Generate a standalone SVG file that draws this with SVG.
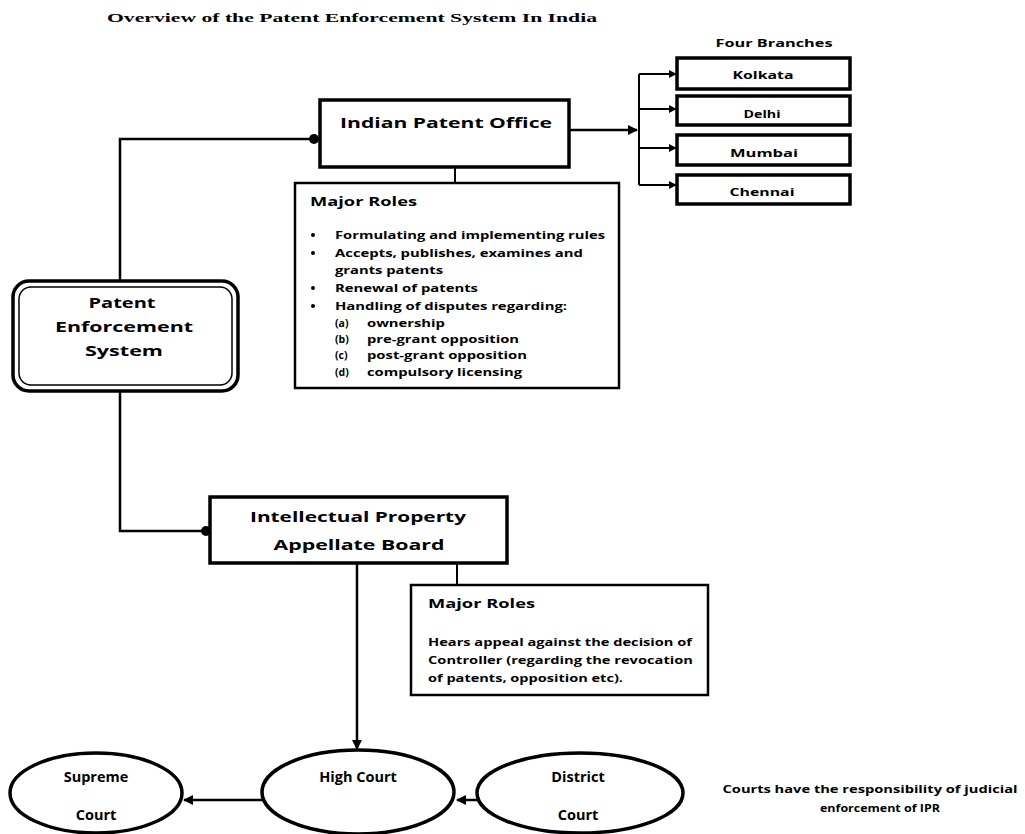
<svg xmlns="http://www.w3.org/2000/svg" width="1025" height="834" viewBox="0 0 1025 834">
<style>
.box{fill:#fff;stroke:#000;stroke-width:3.5}
.note{fill:#fff;stroke:#000;stroke-width:2.5}
.t{font-family:"Open Sans","DejaVu Sans",sans-serif;font-weight:bold;fill:#000}
.c{text-anchor:middle}
.ln{fill:none;stroke:#000;stroke-width:2.5}
.ln2{fill:none;stroke:#000;stroke-width:2}
</style>
<defs>
<marker id="arr" viewBox="0 0 10 10" refX="9" refY="5" markerWidth="4" markerHeight="4" orient="auto" markerUnits="strokeWidth"><path d="M0,0 L10,5 L0,10 z" fill="#000"/></marker>
<marker id="dot" viewBox="0 0 10 10" refX="5" refY="5" markerWidth="4" markerHeight="4" orient="auto" markerUnits="strokeWidth"><circle cx="5" cy="5" r="5" fill="#000"/></marker>
</defs>
<rect width="1025" height="834" fill="#fff"/>
<text x="107" y="22" font-family="Liberation Serif,serif" font-weight="bold" font-size="13" textLength="490" lengthAdjust="spacingAndGlyphs">Overview of the Patent Enforcement System In India</text>

<g id="connectors">
<path class="ln" d="M120,281 V139 H314" marker-end="url(#dot)"/>
<path class="ln" d="M569,130 H637" marker-end="url(#arr)"/>
<path class="ln2" d="M639,74 V185"/>
<path class="ln2" d="M639,74 H676" marker-end="url(#arr)"/>
<path class="ln2" d="M639,109 H676" marker-end="url(#arr)"/>
<path class="ln2" d="M639,148 H676" marker-end="url(#arr)"/>
<path class="ln2" d="M639,185 H676" marker-end="url(#arr)"/>
<path class="ln2" d="M455,167 V183"/>
<path class="ln" d="M120,391 V531 H206" marker-end="url(#dot)"/>
<path class="ln2" d="M457,563 V585"/>
<path class="ln" d="M357,563 V749" marker-end="url(#arr)"/>
<path class="ln" d="M262,800 H184" marker-end="url(#arr)"/>
<path class="ln" d="M477,800 H457" marker-end="url(#arr)"/>
</g>

<g id="ipo">
<rect class="box" x="320" y="100" width="249" height="67"/>
<text class="t" x="340" y="128" font-size="14" textLength="212" lengthAdjust="spacingAndGlyphs">Indian Patent Office</text>
</g>

<g id="branches">
<text class="t c" x="774" y="47" font-size="11" textLength="117" lengthAdjust="spacingAndGlyphs">Four Branches</text>
</g>
<g id="kolkata"><rect class="box" x="677" y="58" width="173" height="31" stroke-width="3"/><text class="t c" x="763" y="79" font-size="11" textLength="61" lengthAdjust="spacingAndGlyphs">Kolkata</text></g>
<g id="delhi"><rect class="box" x="677" y="96" width="173" height="29" stroke-width="3"/><text class="t c" x="762" y="118" font-size="11" textLength="37" lengthAdjust="spacingAndGlyphs">Delhi</text></g>
<g id="mumbai"><rect class="box" x="677" y="135" width="173" height="30" stroke-width="3"/><text class="t c" x="764" y="157" font-size="11" textLength="68" lengthAdjust="spacingAndGlyphs">Mumbai</text></g>
<g id="chennai"><rect class="box" x="677" y="175" width="173" height="29" stroke-width="3"/><text class="t c" x="762" y="196" font-size="11" textLength="65" lengthAdjust="spacingAndGlyphs">Chennai</text></g>

<g id="roles1">
<rect class="note" x="295" y="183" width="324" height="205"/>
<text class="t" x="310" y="206" font-size="12.5" textLength="107" lengthAdjust="spacingAndGlyphs">Major Roles</text>
<g font-size="10.5">
<circle cx="313" cy="235" r="2"/><text class="t" x="335" y="239" textLength="270" lengthAdjust="spacingAndGlyphs">Formulating and implementing rules</text>
<circle cx="313" cy="253" r="2"/><text class="t" x="335" y="257" textLength="248" lengthAdjust="spacingAndGlyphs">Accepts, publishes, examines and</text>
<text class="t" x="335" y="274" textLength="108" lengthAdjust="spacingAndGlyphs">grants patents</text>
<circle cx="313" cy="288" r="2"/><text class="t" x="335" y="292" textLength="143" lengthAdjust="spacingAndGlyphs">Renewal of patents</text>
<circle cx="313" cy="306" r="2"/><text class="t" x="335" y="310" textLength="232" lengthAdjust="spacingAndGlyphs">Handling of disputes regarding:</text>
<text class="t" x="335" y="327">(a)</text><text class="t" x="367" y="327" textLength="78" lengthAdjust="spacingAndGlyphs">ownership</text>
<text class="t" x="335" y="343">(b)</text><text class="t" x="367" y="343" textLength="152" lengthAdjust="spacingAndGlyphs">pre-grant opposition</text>
<text class="t" x="335" y="359">(c)</text><text class="t" x="367" y="359" textLength="160" lengthAdjust="spacingAndGlyphs">post-grant opposition</text>
<text class="t" x="335" y="376">(d)</text><text class="t" x="367" y="376" textLength="155" lengthAdjust="spacingAndGlyphs">compulsory licensing</text>
</g>
</g>

<g id="pes">
<rect x="13" y="281" width="225" height="110" rx="16" fill="#fff" stroke="#000" stroke-width="3.5"/>
<rect x="19" y="287" width="213" height="98" rx="12" fill="none" stroke="#000" stroke-width="1.5"/>
<text class="t c" x="122" y="308" font-size="15" textLength="67" lengthAdjust="spacingAndGlyphs">Patent</text>
<text class="t c" x="124" y="332" font-size="15" textLength="138" lengthAdjust="spacingAndGlyphs">Enforcement</text>
<text class="t c" x="124" y="356" font-size="15" textLength="78" lengthAdjust="spacingAndGlyphs">System</text>
</g>

<g id="ipab">
<rect class="box" x="210" y="497" width="297" height="66"/>
<text class="t c" x="358" y="522" font-size="14.5" textLength="216" lengthAdjust="spacingAndGlyphs">Intellectual Property</text>
<text class="t c" x="359" y="550" font-size="14.5" textLength="171" lengthAdjust="spacingAndGlyphs">Appellate Board</text>
</g>

<g id="roles2">
<rect class="note" x="411" y="585" width="297" height="110"/>
<text class="t" x="428" y="608" font-size="12.5" textLength="107" lengthAdjust="spacingAndGlyphs">Major Roles</text>
<text class="t" x="428" y="646" font-size="10.5" textLength="264" lengthAdjust="spacingAndGlyphs">Hears appeal against the decision of</text>
<text class="t" x="428" y="664" font-size="10.5" textLength="265" lengthAdjust="spacingAndGlyphs">Controller (regarding the revocation</text>
<text class="t" x="428" y="682" font-size="10.5" textLength="195" lengthAdjust="spacingAndGlyphs">of patents, opposition etc).</text>
</g>

<g id="supreme">
<ellipse class="box" cx="96" cy="793" rx="86" ry="40"/>
<text class="t c" x="96" y="782" font-size="14.5">Supreme</text>
<text class="t c" x="96" y="820" font-size="14.5">Court</text>
</g>
<g id="high">
<ellipse class="box" cx="358" cy="792" rx="96" ry="42"/>
<text class="t c" x="358" y="782" font-size="14.5">High Court</text>
</g>
<g id="district">
<ellipse class="box" cx="580" cy="793" rx="103" ry="40"/>
<text class="t c" x="578" y="782" font-size="14.5">District</text>
<text class="t c" x="578" y="820" font-size="14.5">Court</text>
</g>

<g id="note">
<text class="t c" x="870" y="793" font-size="10" font-weight="normal" textLength="295" lengthAdjust="spacingAndGlyphs">Courts have the responsibility of judicial</text>
<text class="t c" x="880" y="812" font-size="10" textLength="120" lengthAdjust="spacingAndGlyphs">enforcement of IPR</text>
</g>
</svg>
